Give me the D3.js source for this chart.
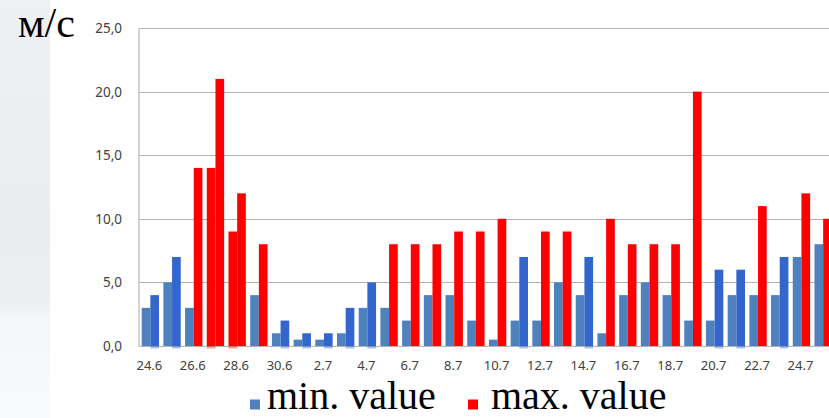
<!DOCTYPE html>
<html>
<head>
<meta charset="utf-8">
<script src="https://cdn.jsdelivr.net/npm/d3@7/dist/d3.min.js"></script>
<style>
  html, body { margin: 0; padding: 0; background: #ffffff; overflow: hidden; }
  svg { display: block; }
</style>
</head>
<body>
<svg id="chart" width="829" height="418"></svg>
<script>
// Daily wind speed, m/s
const days = ["24.6","25.6","26.6","27.6","28.6","29.6","30.6",
  "1.7","2.7","3.7","4.7","5.7","6.7","7.7","8.7","9.7","10.7","11.7","12.7",
  "13.7","14.7","15.7","16.7","17.7","18.7","19.7","20.7","21.7","22.7","23.7","24.7","25.7"];
const minValues = [3,5,3,14,9,4,1, 0.5,0.5,1,3,3,2,4,4,2,0.5,2,2,5,4,1,4,5,4,2,2,4,4,4,7,8];
const maxValues = [4,7,14,21,12,8,2, 1,1,3,5,8,8,8,9,9,10,7,9,9,7,10,8,8,8,20,6,6,11,7,12,10];
const yTicks = [0, 5, 10, 15, 20, 25];
const seriesNames = ["min. value", "max. value"];
const unitLabel = "м/с";
const strongWind = 8;

const colors = { min: "#4f81bd", maxLow: "#3366cc", strong: "#ff0000" };
const serif = "'Liberation Serif', 'Times New Roman', serif";
const sans = "'Noto Sans', 'Open Sans', sans-serif";

const svg = d3.select("#chart");
const W = 829, H = 418;
const plot = { left: 139.5, right: 834, top: 28, bottom: 346 };

// soft backdrop strip on the left
const defs = svg.append("defs");
const grad = defs.append("linearGradient").attr("id", "bg").attr("x1", 0).attr("y1", 0).attr("x2", 0).attr("y2", 1);
[[0, "#eef0f4"], [0.55, "#eaecf0"], [0.72, "#eceef1"], [0.76, "#f5f6f8"], [1, "#f9fafb"]]
  .forEach(([o, c]) => grad.append("stop").attr("offset", o).attr("stop-color", c));
svg.append("rect").attr("x", 0).attr("y", 0).attr("width", 50).attr("height", H).attr("fill", "url(#bg)");

const x = d3.scaleBand().domain(days).range([plot.left, plot.right]).padding(0);
const x1 = d3.scaleBand().domain(["min", "max"]).range([0, x.bandwidth()]).paddingInner(0).paddingOuter(0.25);
const y = d3.scaleLinear().domain([0, 25]).range([plot.bottom, plot.top]);

// gridlines
svg.append("g").selectAll("line").data(yTicks).join("line")
  .attr("x1", plot.left).attr("x2", plot.right)
  .attr("y1", d => Math.round(y(d)) + 0.5).attr("y2", d => Math.round(y(d)) + 0.5)
  .attr("stroke", "#b3b3b3").attr("stroke-width", 1);
svg.append("line")
  .attr("x1", plot.left - 0.5).attr("x2", plot.left - 0.5)
  .attr("y1", plot.top).attr("y2", plot.bottom + 0.5)
  .attr("stroke", "#a6a6a6");

// y tick labels
const fmt = d3.format(".1f");
svg.append("g").selectAll("text").data(yTicks).join("text")
  .attr("x", 122).attr("y", d => y(d) + 5)
  .attr("text-anchor", "end")
  .style("font-family", sans)
  .attr("font-size", 13.5).attr("fill", "#404040")
  .text(d => fmt(d).replace(".", ","));

// x tick labels, every second day
svg.append("g").selectAll("text").data(days.filter((d, i) => i % 2 === 0)).join("text")
  .attr("x", d => x(d) + x.bandwidth() / 2 - 1)
  .attr("y", 369.5)
  .attr("text-anchor", "middle")
  .style("font-family", sans)
  .attr("font-size", 13).attr("fill", "#404040")
  .text(d => d);

// bars
const bars = [];
days.forEach((d, i) => {
  const mn = minValues[i], mx = maxValues[i];
  bars.push({ day: d, key: "min", v: mn, color: mn > strongWind ? colors.strong : colors.min, base: colors.min });
  bars.push({ day: d, key: "max", v: mx, color: mx >= strongWind ? colors.strong : colors.maxLow, base: colors.strong });
});

const g = svg.append("g");
// faint under-edge for recoloured bars
g.selectAll("rect.edge").data(bars.filter(b => b.color !== b.base)).join("rect")
  .attr("class", "edge")
  .attr("x", b => x(b.day) + x1(b.key))
  .attr("width", x1.bandwidth())
  .attr("y", plot.bottom)
  .attr("height", 2.5)
  .attr("fill", b => b.color).attr("opacity", 0.4);
g.selectAll("rect.bar").data(bars).join("rect")
  .attr("class", "bar")
  .attr("x", b => x(b.day) + x1(b.key))
  .attr("width", x1.bandwidth())
  .attr("y", b => y(b.v))
  .attr("height", b => y(0) - y(b.v))
  .attr("fill", b => b.color);

// unit label
svg.append("text")
  .attr("x", 18).attr("y", 37)
  .style("font-family", serif)
  .attr("font-size", 42).attr("fill", "#000")
  .text(unitLabel);

// legend
const legend = [
  { name: seriesNames[0], color: colors.min, sx: 250, tx: 267 },
  { name: seriesNames[1], color: colors.strong, sx: 468, tx: 491 }
];
const lg = svg.append("g");
lg.selectAll("rect").data(legend).join("rect")
  .attr("x", d => d.sx).attr("y", 399.5).attr("width", 10).attr("height", 10)
  .attr("fill", d => d.color);
lg.selectAll("text").data(legend).join("text")
  .attr("x", d => d.tx).attr("y", 409.2)
  .style("font-family", serif)
  .attr("font-size", 40).attr("fill", "#000")
  .text(d => d.name);
</script>
</body>
</html>
